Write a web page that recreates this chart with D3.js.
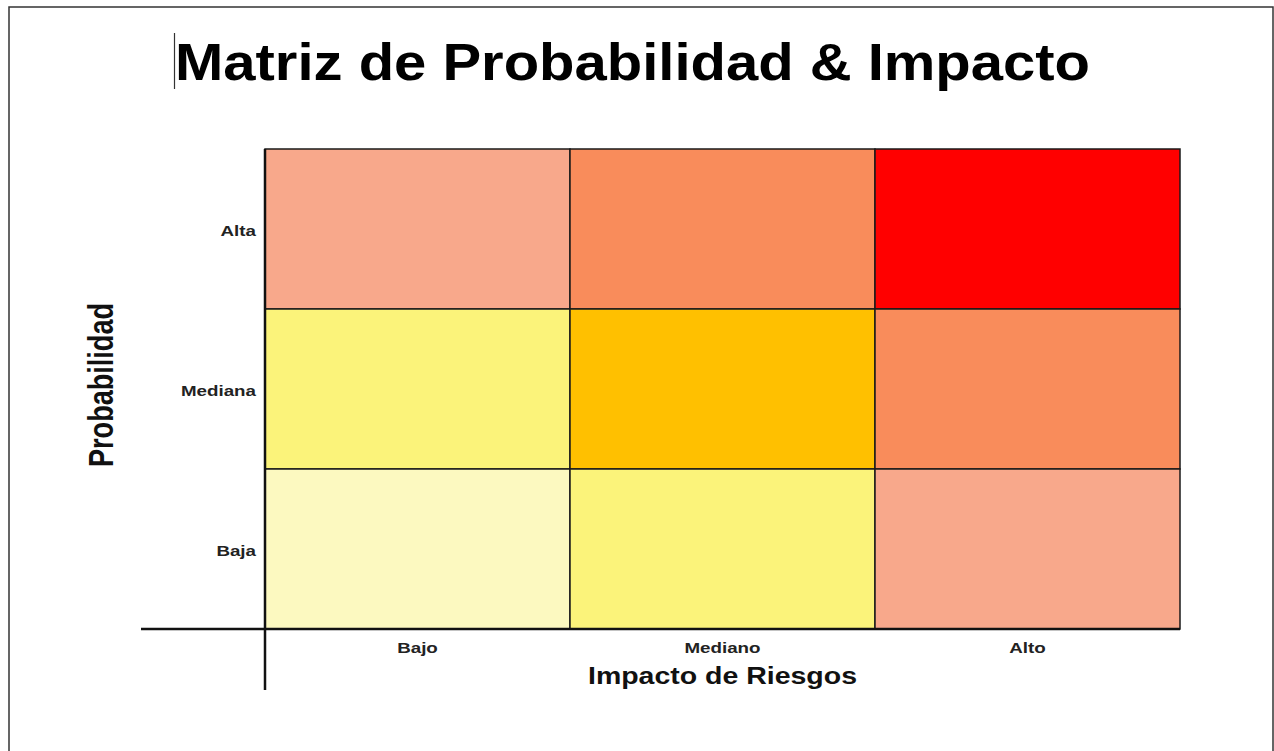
<!DOCTYPE html>
<html><head><meta charset="utf-8">
<script src="https://cdn.jsdelivr.net/npm/d3@7"></script>
<style>body{margin:0;background:#fff;}svg{display:block;}text{font-family:"Liberation Sans",Arial,sans-serif;font-weight:bold;}</style>
</head><body>
<svg id="c" width="1274" height="751"></svg>
<script>
const impactLevels = ["Bajo", "Mediano", "Alto"];
const probabilityLevels = ["Alta", "Mediana", "Baja"];
// cell colours, row = probability level, column = impact level
const altaRow = ["#F8A88B", "#F98C5B", "#FF0000"];
const medianaRow = ["#FBF37A", "#FFC000", "#F98C5B"];
const bajaRow = ["#FCF9C0", "#FBF37A", "#F8A88B"];
const cellColors = [altaRow, medianaRow, bajaRow];
const titleText = "Matriz de Probabilidad & Impacto";
const xTitle = "Impacto de Riesgos";
const yTitle = "Probabilidad";

const svg = d3.select("#c");
// horizontal stretch of the source picture's texts
const stretch = (sel, k) => sel.each(function () {
  const w = this.getComputedTextLength();
  d3.select(this).attr("textLength", w * k).attr("lengthAdjust", "spacingAndGlyphs");
});

// outer frame
svg.append("rect").attr("x", 9).attr("y", 7).attr("width", 1264).attr("height", 760)
  .attr("fill", "none").attr("stroke", "#333").attr("stroke-width", 1.5);

const x = d3.scaleBand().domain(impactLevels).range([265, 1180]);
const y = d3.scaleBand().domain(probabilityLevels).range([149, 629]);

const cells = [];
probabilityLevels.forEach((p, i) => impactLevels.forEach((im, j) => cells.push({p, im, c: cellColors[i][j]})));

svg.append("g").selectAll("rect").data(cells).join("rect")
  .attr("x", d => x(d.im)).attr("y", d => y(d.p))
  .attr("width", x.bandwidth()).attr("height", y.bandwidth())
  .attr("fill", d => d.c).attr("stroke", "#1a1a1a").attr("stroke-width", 1.5);

// axes lines
svg.append("line").attr("x1", 141).attr("x2", 1180).attr("y1", 629).attr("y2", 629)
  .attr("stroke", "#111").attr("stroke-width", 2.5);
svg.append("line").attr("x1", 265).attr("x2", 265).attr("y1", 149).attr("y2", 690)
  .attr("stroke", "#111").attr("stroke-width", 2.5);

// tick labels
svg.append("g").selectAll("text").data(impactLevels).join("text")
  .attr("x", d => x(d) + x.bandwidth() / 2).attr("y", 653)
  .attr("text-anchor", "middle").attr("font-size", 14).attr("fill", "#222").text(d => d)
  .call(stretch, 1.34);
svg.append("g").selectAll("text").data(probabilityLevels).join("text")
  .attr("x", 256).attr("y", d => y(d) + y.bandwidth() / 2 + 6.5)
  .attr("text-anchor", "end").attr("font-size", 15).attr("fill", "#222").text(d => d)
  .call(stretch, 1.25);

// axis titles
svg.append("text").attr("x", 722.5).attr("y", 684).attr("text-anchor", "middle")
  .attr("font-size", 23.5).attr("fill", "#111").text(xTitle)
  .attr("textLength", 269).attr("lengthAdjust", "spacingAndGlyphs");
svg.append("text").attr("transform", "translate(113,385) rotate(-90) scale(1,1.29)").attr("text-anchor", "middle")
  .attr("font-size", 27).attr("fill", "#111").text(yTitle)
  .attr("textLength", 164).attr("lengthAdjust", "spacingAndGlyphs");

// title
svg.append("text").attr("x", 175).attr("y", 80).attr("font-size", 52)
  .attr("fill", "#000").attr("textLength", 915).attr("lengthAdjust", "spacingAndGlyphs").text(titleText);
// cursor mark
svg.append("line").attr("x1", 174.5).attr("x2", 174.5).attr("y1", 33).attr("y2", 89)
  .attr("stroke", "#333").attr("stroke-width", 1.2);
</script>
</body></html>
